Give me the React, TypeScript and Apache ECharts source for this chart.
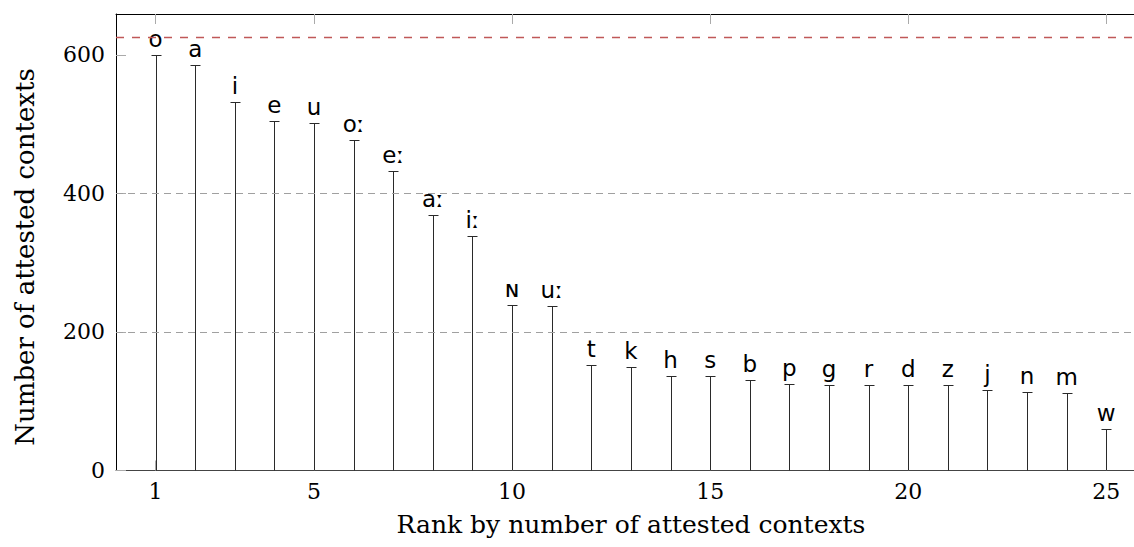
import React, { useEffect, useRef } from "react";
import * as echarts from "echarts";

const ranks = [1, 2, 3, 4, 5, 6, 7, 8, 9, 10, 11, 12, 13, 14, 15, 16, 17, 18, 19, 20, 21, 22, 23, 24, 25];
const contexts = [600, 586, 532, 504, 501, 477, 432, 369, 338, 239, 238, 153, 149, 137, 136, 131, 125, 124, 123, 123, 123, 116, 114, 112, 60];
const segments = ["o", "a", "i", "e", "u", "oː", "eː", "aː", "iː", "ɴ", "uː", "t", "k", "h", "s", "b", "p", "g", "r", "d", "z", "j", "n", "m", "w"];
const xTicks = [1, 5, 10, 15, 20, 25];
const yTicks = [0, 200, 400, 600];
const gridValues = [200, 400];
const referenceLine = 626;
const xTitle = "Rank by number of attested contexts";
const yTitle = "Number of attested contexts";

const SERIF = "'DejaVu Serif', serif";
const SANS = "'DejaVu Sans', sans-serif";

export default function App() {
  const ref = useRef<HTMLDivElement>(null);
  useEffect(() => {
    if (!ref.current) return;
    const chart = echarts.init(ref.current, undefined, { renderer: "svg" });
    const data = ranks.map((r, i) => [r, contexts[i]]);
    chart.setOption({
      animation: false,
      backgroundColor: "#fff",
      grid: { left: 116, top: 14, right: 0, bottom: 76.5 },
      xAxis: [
        {
          type: "value",
          min: 0,
          max: 25.7,
          position: "bottom",
          axisLine: { show: true, lineStyle: { color: "#444", width: 1 } },
          axisTick: { show: true, inside: true, length: 10, customValues: xTicks, lineStyle: { color: "#aaa" } },
          axisLabel: { customValues: xTicks, margin: 10, fontFamily: SERIF, fontSize: 22, color: "#000" },
          splitLine: { show: false },
        },
        {
          type: "value",
          min: 0,
          max: 25.7,
          position: "top",
          axisLine: { show: true, lineStyle: { color: "#000", width: 1 } },
          axisTick: { show: true, inside: true, length: 10, customValues: xTicks, lineStyle: { color: "#aaa" } },
          axisLabel: { show: false },
          splitLine: { show: false },
        },
      ],
      yAxis: {
        type: "value",
        min: 0,
        max: 659,
        axisLine: { show: true, lineStyle: { color: "#000", width: 1 } },
        axisTick: { show: true, inside: true, length: 10, customValues: yTicks, lineStyle: { color: "#aaa" } },
        axisLabel: { customValues: yTicks, margin: 11, fontFamily: SERIF, fontSize: 22, color: "#000" },
        splitLine: { show: false },
      },
      series: [
        {
          type: "line",
          data: [],
          symbol: "none",
          silent: true,
          markLine: {
            silent: true,
            symbol: ["none", "none"],
            label: { show: false },
            data: [
              ...gridValues.map((v) => ({ yAxis: v, lineStyle: { color: "#a0a0a0", type: [7, 5], width: 1 } })),
              { yAxis: referenceLine, lineStyle: { color: "#c05858", type: [8, 8], width: 1.3 } },
            ],
          },
        },
        {
          type: "custom",
          data,
          clip: false,
          renderItem: (params: any, api: any) => {
            const x = api.value(0);
            const v = api.value(1);
            const base = api.coord([x, 0]);
            const top = api.coord([x, v]);
            const px = Math.round(top[0]) + 0.5;
            const py = Math.round(top[1]) + 0.5;
            return {
              type: "group",
              children: [
                { type: "line", shape: { x1: px, y1: base[1], x2: px, y2: py }, style: { stroke: "#2a2a2a", lineWidth: 1 } },
                { type: "line", shape: { x1: px - 5, y1: py, x2: px + 5, y2: py }, style: { stroke: "#2a2a2a", lineWidth: 1 } },
                {
                  type: "text",
                  x: top[0],
                  y: top[1] - 16,
                  style: {
                    text: segments[params.dataIndex],
                    fontFamily: SANS,
                    fontSize: 23,
                    fill: "#000",
                    align: "center",
                    verticalAlign: "middle",
                  },
                },
              ],
            };
          },
        },
      ],
      graphic: [
        {
          type: "text",
          x: 631,
          y: 524,
          style: { text: xTitle, fontFamily: SERIF, fontSize: 25, fill: "#000", align: "center", verticalAlign: "middle" },
        },
        {
          type: "text",
          x: 25,
          y: 257,
          rotation: Math.PI / 2,
          style: { text: yTitle, fontFamily: SERIF, fontSize: 26, fill: "#000", align: "center", verticalAlign: "middle" },
        },
      ],
    });
    return () => chart.dispose();
  }, []);
  return <div ref={ref} style={{ position: "absolute", left: 0, top: 0, width: 1134, height: 547, overflow: "hidden" }} />;
}
